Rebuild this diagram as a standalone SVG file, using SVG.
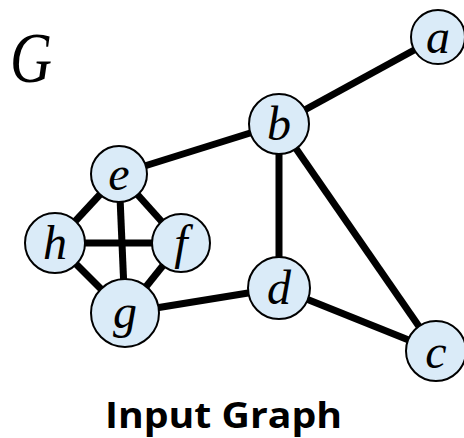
<svg xmlns="http://www.w3.org/2000/svg" width="464" height="438" viewBox="0 0 464 438">
<style>
.node circle{fill:#DAEBF8;stroke:#000;stroke-width:2}
.node text{font-family:"Liberation Serif",serif;font-style:italic;font-size:48px;text-anchor:middle;fill:#000}
.edges line{stroke:#000;stroke-width:7;stroke-linecap:butt}
.title{font-family:"Liberation Serif",serif;font-style:italic;font-size:72px;fill:#000}
.caption{font-family:"Open Sans",sans-serif;font-weight:700;font-size:36px;fill:#000}
</style>
<rect width="464" height="438" fill="#fff"/>
<text class="title" x="10" y="82" textLength="42" lengthAdjust="spacingAndGlyphs">G</text>
<g class="edges">
<line x1="438" y1="37" x2="279" y2="124"/>
<line x1="279" y1="124" x2="119" y2="174"/>
<line x1="279" y1="124" x2="279" y2="288"/>
<line x1="279" y1="124" x2="436" y2="351"/>
<line x1="279" y1="288" x2="436" y2="351"/>
<line x1="279" y1="288" x2="125" y2="313"/>
<line x1="119" y1="174" x2="55" y2="243"/>
<line x1="119" y1="174" x2="181" y2="243"/>
<line x1="119" y1="174" x2="125" y2="313"/>
<line x1="55" y1="243" x2="181" y2="243"/>
<line x1="55" y1="243" x2="125" y2="313"/>
<line x1="181" y1="243" x2="125" y2="313"/>
</g>
<g id="node-a" class="node"><circle cx="438" cy="37" r="27"/><text x="438" y="53">a</text></g>
<g id="node-b" class="node"><circle cx="279" cy="124" r="30"/><text x="279" y="140">b</text></g>
<g id="node-e" class="node"><circle cx="119" cy="174" r="28"/><text x="119" y="190">e</text></g>
<g id="node-h" class="node"><circle cx="55" cy="243" r="30"/><text x="55" y="259">h</text></g>
<g id="node-f" class="node"><circle cx="181" cy="243" r="29"/><text x="181" y="259">f</text></g>
<g id="node-g" class="node"><circle cx="125" cy="313" r="34"/><text x="125" y="328">g</text></g>
<g id="node-d" class="node"><circle cx="279" cy="288" r="31"/><text x="279" y="304">d</text></g>
<g id="node-c" class="node"><circle cx="436" cy="351" r="30"/><text x="436" y="368">c</text></g>
<text class="caption" x="105" y="428" textLength="237" lengthAdjust="spacingAndGlyphs">Input Graph</text>
</svg>
